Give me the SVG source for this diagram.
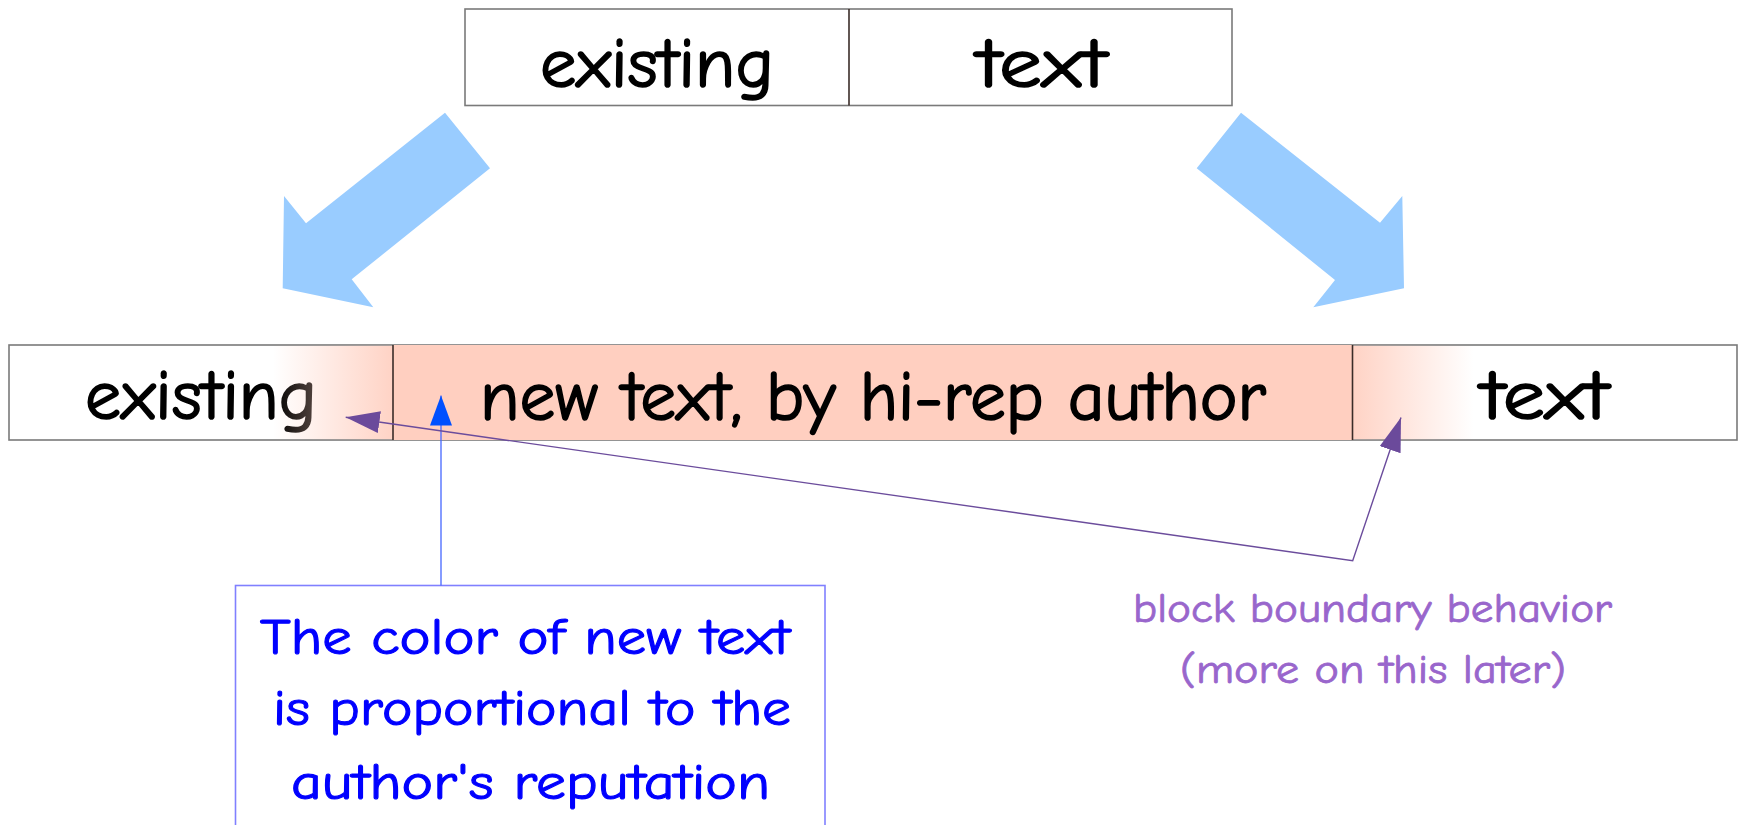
<svg xmlns="http://www.w3.org/2000/svg" width="1741" height="825" viewBox="0 0 1741 825">
<defs>
<style>
.cell{fill:#fff;stroke:#7a7a7a;stroke-width:1.6}
.div{stroke:#3a2c28;stroke-width:1.6}
.big{font-family:"Comic Sans MS","Comic Neue","Noto Sans",sans-serif;font-size:70px;fill:#000;stroke:#000;stroke-width:1.6}
.note{font-family:"Comic Sans MS","Comic Neue","Noto Sans",sans-serif;font-size:50px;fill:#0000ff;stroke:#0000ff;stroke-width:1.1}
.lab{font-family:"Comic Sans MS","Comic Neue","Noto Sans",sans-serif;font-size:40px;fill:#9966cc;stroke:#9966cc;stroke-width:0.8}
.blk{fill:#99ccff}
</style>
<linearGradient id="fadeL" x1="0" y1="0" x2="1" y2="0">
<stop offset="0" stop-color="#ffcfc0" stop-opacity="0"/>
<stop offset="1" stop-color="#ffcfc0" stop-opacity="0.92"/>
</linearGradient>
<linearGradient id="fadeR" x1="0" y1="0" x2="1" y2="0">
<stop offset="0" stop-color="#ffcfc0" stop-opacity="0.92"/>
<stop offset="1" stop-color="#ffcfc0" stop-opacity="0"/>
</linearGradient>
<marker id="ahBlue" viewBox="0 0 30 22" refX="30" refY="11" markerWidth="30" markerHeight="22" markerUnits="userSpaceOnUse" orient="auto">
<path d="M0,0 L30,11 L0,22 z" fill="#0050ff"/>
</marker>
<marker id="ahPurple" viewBox="0 0 34 22" refX="34" refY="11" markerWidth="34" markerHeight="22" markerUnits="userSpaceOnUse" orient="auto-start-reverse">
<path d="M0,0 L34,11 L0,22 z" fill="#6b4a9b"/>
</marker>
</defs>
<rect width="1741" height="825" fill="#fff"/>

<g id="top-box">
<rect class="cell" x="465" y="9" width="767" height="96.5"/>
<line class="div" x1="849" y1="9" x2="849" y2="105.5"/>
<text class="big" x="540" y="87" textLength="234" lengthAdjust="spacingAndGlyphs">existing</text>
<text class="big" x="977" y="87" textLength="130" lengthAdjust="spacingAndGlyphs">text</text>
</g>

<g id="bottom-bar">
<rect class="cell" x="9" y="345" width="1728" height="95"/>
<rect x="393" y="345" width="959.5" height="95" fill="#ffcfc0"/>
<text class="big" x="85" y="419" textLength="232" lengthAdjust="spacingAndGlyphs">existing</text>
<text class="big" x="480" y="420" textLength="786" lengthAdjust="spacingAndGlyphs">new text, by hi-rep author</text>
<text class="big" x="1481" y="419" textLength="128" lengthAdjust="spacingAndGlyphs">text</text>
<rect x="273" y="345.8" width="120" height="93.4" fill="url(#fadeL)"/>
<rect x="1352.5" y="345.8" width="121" height="93.4" fill="url(#fadeR)"/>
<line class="div" x1="393" y1="345" x2="393" y2="440"/>
<line class="div" x1="1352.5" y1="345" x2="1352.5" y2="440"/>
</g>

<g id="note-box">
<rect x="235.5" y="585.5" width="589.5" height="260" fill="#fff" stroke="#8080ff" stroke-width="1.6"/>
<text class="note" x="260" y="654" textLength="530" lengthAdjust="spacingAndGlyphs">The color of new text</text>
<text class="note" x="273" y="725" textLength="518" lengthAdjust="spacingAndGlyphs">is proportional to the</text>
<text class="note" x="291" y="799" textLength="479" lengthAdjust="spacingAndGlyphs">author's reputation</text>
</g>

<g id="boundary-label">
<text class="lab" x="1133" y="622" textLength="479" lengthAdjust="spacingAndGlyphs">block boundary behavior</text>
<text class="lab" x="1180" y="683" textLength="386" lengthAdjust="spacingAndGlyphs">(more on this later)</text>
</g>

<g id="connectors">
<polygon class="blk" points="445,112.7 490,168.3 351.7,279.3 373.3,307.3 282.7,288.3 284,196 306,223.3"/>
<polygon class="blk" points="1241,112.7 1380,222.7 1402.3,196 1404,288.3 1313.3,307.3 1335,280 1196.7,168.3"/>
<path d="M441,585.5 L441,395.5" fill="none" stroke="#4466ff" stroke-width="1.3" marker-end="url(#ahBlue)"/>
<path d="M1401,417.5 L1352.7,560.7 L345.7,417.3" fill="none" stroke="#6b4c9c" stroke-width="1.4" marker-start="url(#ahPurple)" marker-end="url(#ahPurple)"/>
</g>
</svg>
